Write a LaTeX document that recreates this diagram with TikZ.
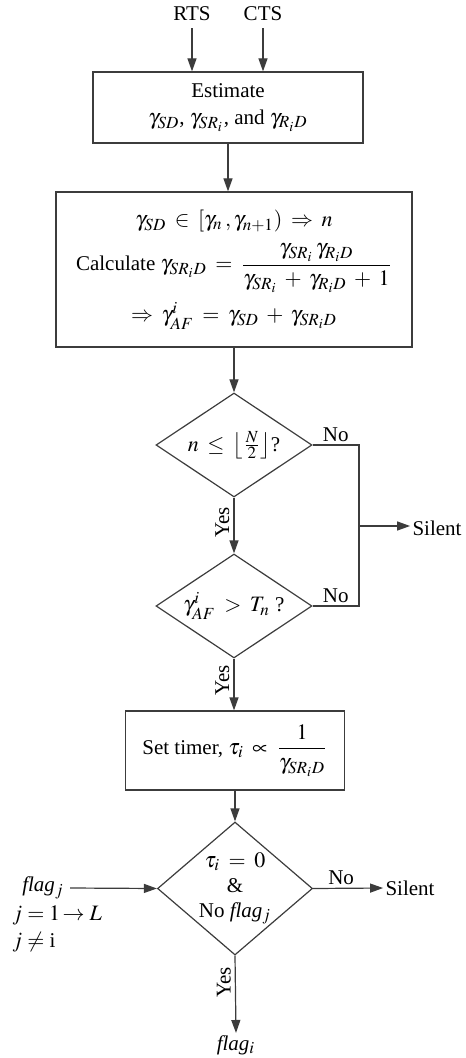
\documentclass[tikz,border=0pt]{standalone}
\usepackage{amsmath}
\usepackage{mathptmx}
\usepackage[no-math]{fontspec}
\setmainfont{Liberation Serif}
\usetikzlibrary{arrows.meta,shapes.geometric}
\DeclareMathSizes{10.5}{11}{8.5}{7}
\definecolor{ink}{RGB}{60,60,60}
\tikzset{
  box/.style={draw=ink, line width=0.6pt, inner sep=2pt, align=center},
  test/.style={draw=ink, line width=0.6pt, diamond, inner sep=0pt},
  wire/.style={draw=ink, line width=0.6pt},
  flow/.style={wire, -{Triangle[length=6.5pt,width=4.5pt]}},
  yes/.style={rotate=90, anchor=south, inner sep=2pt},
  nolab/.style={above, inner sep=1.5pt},
}

\begin{document}
\begin{tikzpicture}[x=0.5pt,y=-0.5pt,font=\fontsize{10.5}{12.5}\selectfont]
        \medmuskip=6mu \thickmuskip=7mu
        \useasboundingbox (0,0) rectangle (465,1058);
        % inputs and the two boxes
        \node (rts) at (192,14) {RTS};
        \node (cts) at (263,14) {CTS};
        \node[box,minimum width=135pt,minimum height=35.5pt] (est) at (228,107.5)
          {Estimate\\[1pt] $\gamma_{SD}$, $\gamma_{SR_i}$, and $\gamma_{R_iD}$};
        \node[box,minimum width=178pt,minimum height=77.5pt] (calc) at (234,269.5)
          {$\gamma_{SD}\in\left[\gamma_n\,,\gamma_{n+1}\right)\Rightarrow n$\\[5pt]
           Calculate $\gamma_{SR_iD}=\dfrac{\gamma_{SR_i}\,\gamma_{R_iD}}{\gamma_{SR_i}+\gamma_{R_iD}+1}$\\[4pt]
           $\Rightarrow\gamma^i_{AF}=\gamma_{SD}+\gamma_{SR_iD}$};
        \draw[flow] (rts.south) -- (rts.south |- est.north);
        \draw[flow] (cts.south) -- (cts.south |- est.north);
        \draw[flow] (est.south) -- (est.south |- calc.north);
        % the two tests
        \node[test,minimum width=78pt,minimum height=52pt] (t1) at (234,445) {};
        \node (t1text) at (t1) {$n\le\left\lfloor\frac{N}{2}\right\rfloor$?};
        \node[test,minimum width=78pt,minimum height=52pt] (t2) at (234,606) {};
        \node (t2text) at (t2) {$\gamma^i_{AF}>T_n$ ?};
        \draw[flow] (calc.south) -- (t1.north);
        \draw[flow] (t1.south) -- node[yes,pos=0.45] {Yes} (t2.north);
        \coordinate (join) at (359,526);
        \node[inner sep=1pt] (silent1) at (437,528) {Silent};
        \draw[wire] (t1.east) -- node[nolab] {No} (t1.east -| join) -- (t2.east -| join) -- node[nolab] {No} (t2.east);
        \draw[flow] (join) -- (join -| silent1.west);
        % timer and the last test
        \node[box,minimum width=109.5pt,minimum height=39.5pt] (timer) at (235,750.5)
          {Set timer, $\tau_i\propto\dfrac{1}{\gamma_{SR_iD}}$};
        \draw[flow] (t2.south) -- node[yes,pos=0.42] {Yes} (t2.south |- timer.north);
        \node[test,minimum width=77.5pt,minimum height=66.5pt] (t3) at (235,888.5) {};
        \node[align=center] (t3text) at (t3) {$\tau_i=0$\\ \&\\ No \textit{flag}$_j$};
        \draw[flow] (timer.south) -- (t3.north);
        \node[inner sep=3pt] (flagj) at (43,888) {\textit{flag}$_j$};
        \node[align=left,anchor=north west,inner sep=0pt] (range) at (12,905)
          {\thickmuskip=4mu $j=1\!\rightarrow L$\\[1pt] \thickmuskip=4mu $j\neq$ i};
        \draw[flow] (flagj.east) -- (t3.west);
        \node[inner sep=1pt] (silent2) at (410,888) {Silent};
        \draw[flow] (t3.east) -- node[nolab,pos=0.4] {No} (silent2.west);
        \node[inner sep=1pt] (flagi) at (236,1045) {\textit{flag}$_i$};
        \draw[flow] (t3.south) -- node[yes,pos=0.35] {Yes} (flagi.north);
      \end{tikzpicture}
\end{document}
